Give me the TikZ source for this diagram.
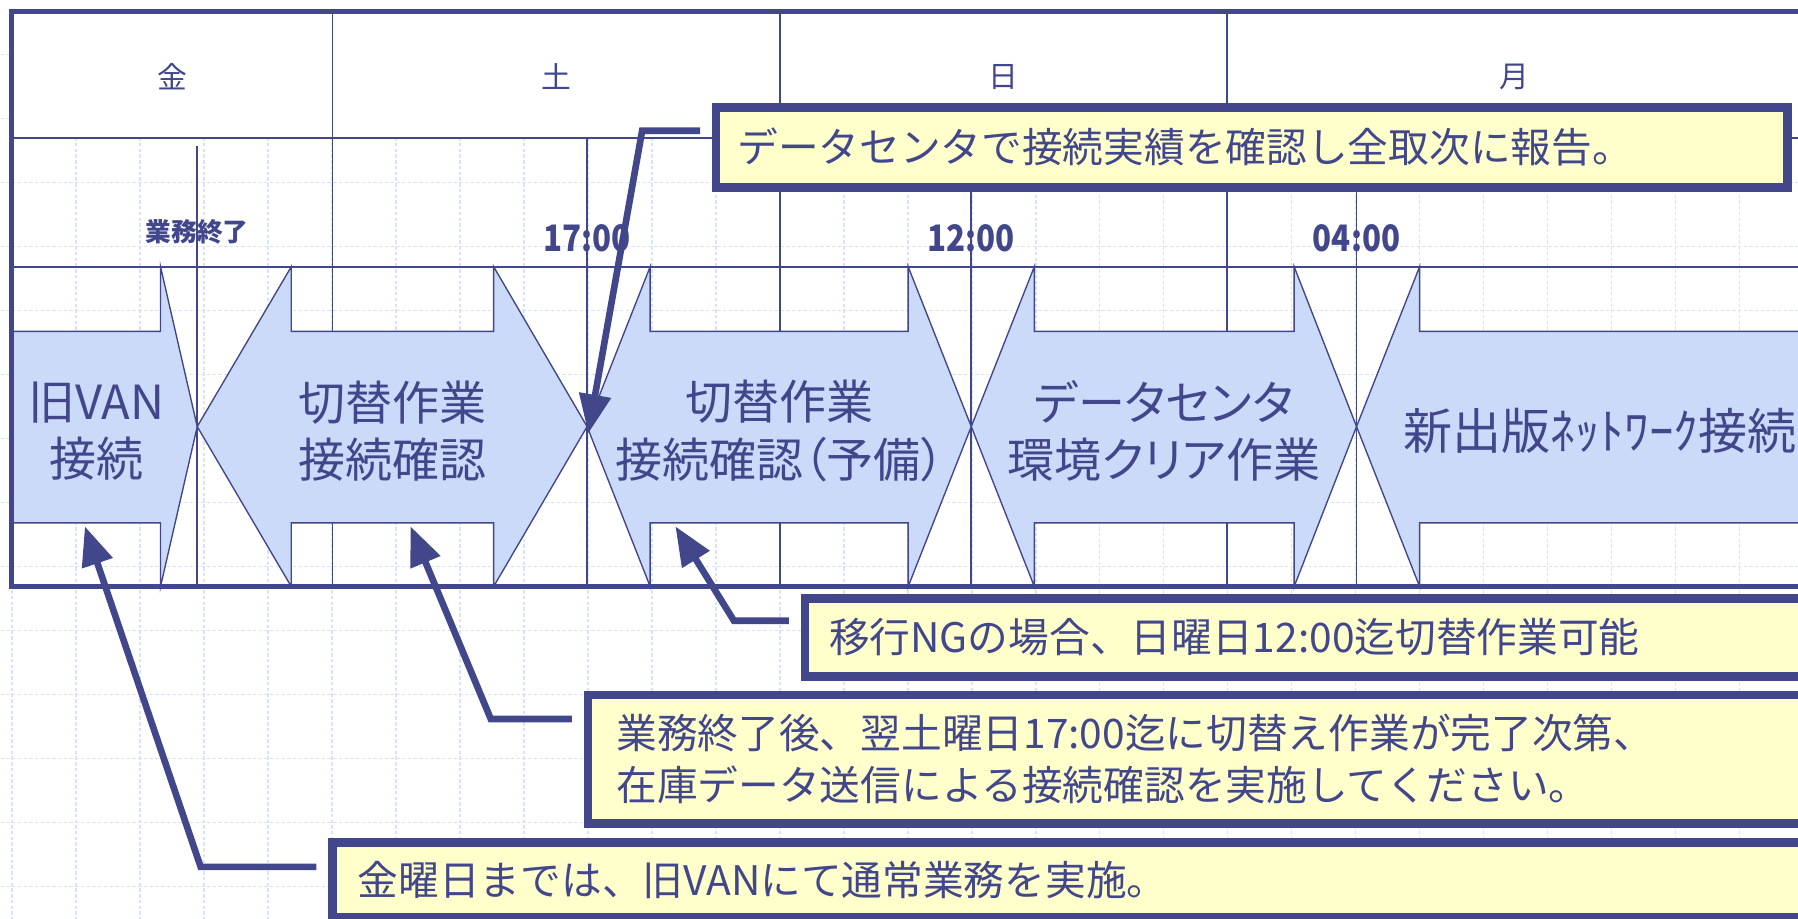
\documentclass[tikz,border=0pt]{standalone}
\usepackage{graphicx}
\usepackage{fontspec}
\setmainfont{Noto Sans CJK JP}
\newfontfamily\propfont[RawFeature=+palt]{Noto Sans CJK JP}
\usepackage{tikz}
\usetikzlibrary{arrows.meta}
\usepackage{xcolor}
\definecolor{navy}{RGB}{66,71,139}
\definecolor{bandblue}{RGB}{204,218,250}
\definecolor{memoyellow}{RGB}{255,255,204}
\definecolor{gridblue}{RGB}{216,226,248}

\begin{document}
\begin{tikzpicture}[x=0.5pt, y=-0.5pt,
    frame/.style={draw=navy, line width=2.5pt},
    rule/.style={navy, line width=0.8pt},
    band/.style={draw=navy, fill=bandblue, line width=0.6pt, line join=miter},
    day/.style={text=navy, font=\fontsize{13}{15}\selectfont},
    clock/.style={text=navy, inner sep=0pt, font=\bfseries\fontsize{15.9}{18}\selectfont},
    bandtext/.style={text=navy, align=center, font=\propfont\fontsize{20.5}{25}\selectfont},
    note/.style={draw=navy, fill=memoyellow, line width=3.75pt, text=navy, align=left,
      anchor=north west, outer sep=0pt, inner ysep=0pt, font=\fontsize{17.75}{22.5}\selectfont},
    leader/.style={navy, line width=2.9pt, -{Triangle[length=17pt,width=13.5pt]}},
  ]
  \useasboundingbox (0,0) rectangle (1568,801);
  \clip (0,0) rectangle (1568,801);

  % background grid
  \draw[gridblue, line width=0.6pt, dash pattern=on 1.5pt off 1pt, step=27.9pt,
    shift={(5.25pt,-23.85pt)}] (-40,840) grid (1620,-40);
  \fill[white] (10,10) rectangle (1572,120.6);

  % table
  \draw[rule] (10,120.6) -- (1572,120.6);
  \draw[rule] (10,232.6) -- (1572,232.6);
  \draw[rule] (290,10) -- (290,511.5);
  \draw[rule] (680,10) -- (680,511.5);
  \draw[rule] (1070,10) -- (1070,511.5);
  \draw[rule] (172,127) -- (172,511.5);
  \draw[rule] (512,120.6) -- (512,511.5);
  \draw[rule] (847,120.6) -- (847,511.5);
  \draw[rule] (1183,120.6) -- (1183,511.5);

  % bands
  \draw[band] (10,289) -- (140,289) -- (140,232.6) -- (172,372) -- (140,511.5) -- (140,456) -- (10,456) -- cycle;
  \draw[band] (254,289) -- (430.5,289) -- (430.5,232.6) -- (512,372) -- (430.5,511.5) -- (430.5,456)
    -- (254,456) -- (254,511.5) -- (172,372) -- (254,232.6) -- cycle;
  \draw[band] (567,289) -- (792,289) -- (792,232.6) -- (847,372) -- (792,511.5) -- (792,456)
    -- (567,456) -- (567,511.5) -- (512,372) -- (567,232.6) -- cycle;
  \draw[band] (902,289) -- (1128.6,289) -- (1128.6,232.6) -- (1183,372) -- (1128.6,511.5) -- (1128.6,456)
    -- (902,456) -- (902,511.5) -- (847,372) -- (902,232.6) -- cycle;
  \draw[band] (1238,289) -- (1640,289) -- (1640,456) -- (1238,456) -- (1238,511.5) -- (1183,372) -- (1238,232.6) -- cycle;

  \draw[frame] (10,10) rectangle (1572,511.5);

  \node[day] (dFri) at (150,67) {金};
  \node[day] (dSat) at (485,67) {土};
  \node[day] (dSun) at (875,67) {日};
  \node[day] (dMon) at (1321,67) {月};

  \node[clock, font=\bfseries\fontsize{11.2}{13}\selectfont] (lEnd) at (172,202) {業務終了};
  \node[clock] (l17) at (512,208) {\scalebox{0.86}[1]{17:00}};
  \node[clock] (l12) at (847,208) {\scalebox{0.86}[1]{12:00}};
  \node[clock] (l04) at (1183,208) {\scalebox{0.86}[1]{04:00}};

  \node[bandtext] (tOld) at (84,376) {旧VAN\\接続};
  \node[bandtext] (tSw) at (342,376) {切替作業\\接続確認};
  \node[bandtext] (tSwR) at (680,376) {切替作業\\接続確認（予備）};
  \node[bandtext] (tClr) at (1015,376) {データセンタ\\環境クリア作業};
  \node[bandtext, anchor=west, font=\propfont\fontsize{21.4}{25}\selectfont] (tNew) at (1217,376) {新出版ﾈｯﾄﾜｰｸ接続};

  % callouts
  \node[note, minimum width=467.25pt, minimum height=34.9pt, text width=448.75pt, inner xsep=9.25pt]
    (cReport) at (624.5,93.7) {データセンタで接続実績を確認し全取次に報告。};
  \node[note, minimum width=469pt, minimum height=34.1pt, text width=448pt, inner xsep=10.5pt]
    (cNG) at (702,521.8) {移行NGの場合、日曜日12:00迄切替作業可能};
  \node[note, minimum width=563.6pt, minimum height=56pt, text width=538.9pt, inner xsep=12.35pt]
    (cSat) at (512.8,606) {業務終了後、翌土曜日17:00迄に切替え作業が完了次第、\\在庫データ送信による接続確認を実施してください。};
  \node[note, minimum width=675pt, minimum height=32.65pt, text width=653pt, inner xsep=11pt]
    (cFri) at (290,734.7) {金曜日までは、旧VANにて通常業務を実施。};

  \coordinate (kA) at (560,114);
  \coordinate (hA) at (513,378);
  \coordinate (kB) at (640,541.3);
  \coordinate (hB) at (589,459);
  \coordinate (kC) at (428,627);
  \coordinate (hC) at (358,459);
  \coordinate (kD) at (175,756);
  \coordinate (hD) at (74,459);

  \draw[leader, shorten <=7pt] (cReport.west |- kA) -- (kA) -- (hA);
  \draw[leader, shorten <=7pt] (cNG.west |- kB) -- (kB) -- (hB);
  \draw[leader, shorten <=7pt] (cSat.west |- kC) -- (kC) -- (hC);
  \draw[leader, shorten <=7pt] (cFri.west |- kD) -- (kD) -- (hD);
\end{tikzpicture}
\end{document}
